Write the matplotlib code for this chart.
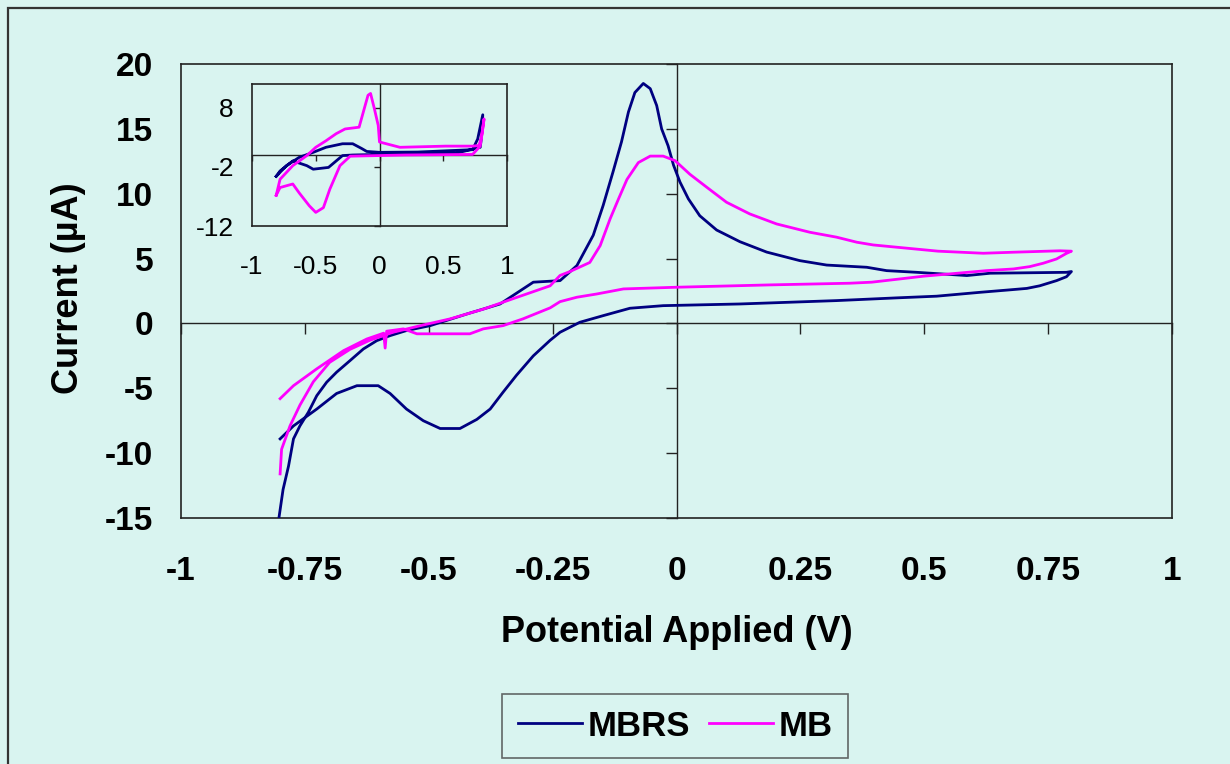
import numpy as np
import matplotlib
matplotlib.use("Agg")
import matplotlib.pyplot as plt
from matplotlib.patches import Rectangle

plt.rcParams["font.family"] = ["Liberation Sans", "DejaVu Sans"]

# main voltammograms (potential in V, current in uA)
mbrs_v = [-0.802, -0.794, -0.783, -0.773, -0.760, -0.743, -0.726, -0.706, -0.686, -0.659,
          -0.632, -0.605, -0.578, -0.545, -0.497, -0.423, -0.356, -0.289, -0.235, -0.201,
          -0.168, -0.148, -0.128, -0.111, -0.097, -0.084, -0.067, -0.053, -0.040, -0.030,
          -0.017, -0.006, 0.007, 0.024, 0.047, 0.081, 0.128, 0.182, 0.249, 0.303,
          0.384, 0.424, 0.485, 0.586, 0.633, 0.787, 0.797,
          0.787, 0.767, 0.733, 0.707, 0.670, 0.613, 0.525, 0.444, 0.323, 0.128,
          -0.027, -0.094, -0.148, -0.195, -0.235, -0.255, -0.289, -0.323, -0.350, -0.376,
          -0.403, -0.437, -0.477, -0.511, -0.545, -0.578, -0.602, -0.645, -0.686, -0.726,
          -0.773, -0.800]
mbrs_i = [-14.9, -12.8, -11.0, -8.9, -7.9, -6.85, -5.57, -4.53, -3.76, -2.87,
          -1.97, -1.33, -0.94, -0.55, -0.17, 0.73, 1.5, 3.18, 3.3, 4.46,
          6.8, 9.1, 11.7, 14.0, 16.3, 17.8, 18.5, 18.1, 16.8, 15.0,
          13.7, 12.2, 10.9, 9.6, 8.3, 7.2, 6.3, 5.5, 4.84, 4.5,
          4.33, 4.07, 3.94, 3.69, 3.87, 3.94, 4.0,
          3.6, 3.3, 2.9, 2.7, 2.58, 2.4, 2.1, 1.97, 1.76, 1.5,
          1.37, 1.17, 0.6, 0.09, -0.68, -1.3, -2.5, -4.0, -5.3, -6.6,
          -7.4, -8.1, -8.1, -7.5, -6.6, -5.4, -4.8, -4.8, -5.4, -6.6,
          -7.9, -8.9]

mb_v = [-0.800, -0.797, -0.780, -0.760, -0.733, -0.700, -0.659, -0.619, -0.572, -0.511,
        -0.457, -0.390, -0.323, -0.255, -0.235, -0.215, -0.175, -0.154, -0.134, -0.117,
        -0.100, -0.077, -0.053, -0.027, -0.003, 0.027, 0.061, 0.101, 0.148, 0.202,
        0.269, 0.323, 0.364, 0.397, 0.465, 0.528, 0.619, 0.680, 0.774, 0.797,
        0.787, 0.767, 0.740, 0.713, 0.680, 0.626, 0.552, 0.498, 0.451, 0.394,
        0.350, 0.188, 0.000, -0.107, -0.161, -0.201, -0.235, -0.255, -0.310, -0.350,
        -0.390, -0.417, -0.477, -0.524, -0.551, -0.585, -0.588, -0.591, -0.625, -0.672,
        -0.726, -0.773, -0.800]
mb_i = [-11.6, -9.7, -7.9, -6.3, -4.5, -3.0, -2.0, -1.3, -0.68, -0.12,
        0.35, 1.1, 2.0, 2.9, 3.7, 4.0, 4.7, 6.0, 8.06, 9.6,
        11.1, 12.4, 12.9, 12.9, 12.55, 11.5, 10.5, 9.34, 8.44, 7.67,
        7.03, 6.65, 6.26, 6.05, 5.8, 5.57, 5.41, 5.49, 5.6, 5.57,
        5.4, 4.97, 4.64, 4.38, 4.2, 4.07, 3.82, 3.64, 3.43, 3.18,
        3.1, 2.97, 2.79, 2.66, 2.27, 2.02, 1.68, 1.2, 0.35, -0.17,
        -0.42, -0.8, -0.8, -0.8, -0.42, -0.6, -1.9, -0.75, -1.2, -2.1,
        -3.5, -4.8, -5.8]

# inset voltammograms
ins_mbrs_v = [-0.81, -0.73, -0.63, -0.52, -0.42, -0.29, -0.21, -0.14, -0.10, 0.00,
              0.30, 0.73, 0.77, 0.81, 0.80, 0.79, 0.60, 0.20, -0.21, -0.29,
              -0.40, -0.52, -0.57, -0.68, -0.78, -0.81]
ins_mbrs_i = [-3.6, -1.8, -0.4, 0.45, 1.3, 1.9, 1.9, 1.1, 0.6, 0.45,
              0.5, 0.9, 2.7, 6.8, 3.0, 1.3, 0.3, 0.2, 0.0, -0.1,
              -2.1, -2.4, -1.8, -1.0, -2.7, -3.6]
ins_mb_v = [-0.81, -0.78, -0.68, -0.57, -0.50, -0.42, -0.34, -0.27, -0.16, -0.12,
            -0.09, -0.07, -0.04, -0.01, 0.00, 0.16, 0.52, 0.73, 0.78, 0.80,
            0.82, 0.81, 0.79, 0.73, 0.20, -0.23, -0.31, -0.39, -0.44, -0.50,
            -0.55, -0.63, -0.68, -0.78, -0.81]
ins_mb_i = [-6.8, -4.1, -1.8, -0.1, 1.3, 2.4, 3.6, 4.4, 4.7, 7.8,
            10.1, 10.4, 7.8, 5.0, 2.2, 1.3, 1.5, 1.5, 1.6, 3.0,
            6.1, 4.5, 1.5, 0.1, 0.0, -0.2, -1.8, -5.8, -8.9, -9.7,
            -8.6, -6.4, -4.9, -5.5, -6.8]

x_ticks = [-1, -0.75, -0.5, -0.25, 0, 0.25, 0.5, 0.75, 1]
x_labels = ["-1", "-0.75", "-0.5", "-0.25", "0", "0.25", "0.5", "0.75", "1"]
y_ticks = [-15, -10, -5, 0, 5, 10, 15, 20]
ins_x_ticks = [-1, -0.5, 0, 0.5, 1]
ins_x_labels = ["-1", "-0.5", "0", "0.5", "1"]
ins_y_ticks = [-12, -2, 8]

BG = "#d9f4f0"
NAVY = "#000080"
MAGENTA = "#ff00ff"
W, H = 1230, 764


def px_rect(x0, y0, x1, y1):
    return [x0 / W, 1 - y1 / H, (x1 - x0) / W, (y1 - y0) / H]


def make_axes(fig, rect, xlim, ylim, xt, xl, yt, fs, weight, xpad, ypad, tlen):
    # frame + tick labels placed at the edges (Excel "low" labels)
    ax = fig.add_axes(rect)
    ax.set_facecolor(BG)
    ax.set_xlim(*xlim)
    ax.set_ylim(*ylim)
    ax.set_xticks(xt)
    ax.set_xticklabels(xl, fontsize=fs, fontweight=weight)
    ax.set_yticks(yt)
    ax.set_yticklabels([str(t) for t in yt], fontsize=fs, fontweight=weight)
    ax.tick_params(axis="x", length=0, pad=xpad)
    ax.tick_params(axis="y", length=0, pad=ypad)
    for s in ax.spines.values():
        s.set_color("#222222")
        s.set_linewidth(1.2)

    # axis lines crossing at zero
    az = fig.add_axes(rect)
    az.patch.set_visible(False)
    az.set_xlim(*xlim)
    az.set_ylim(*ylim)
    az.set_xticks(xt)
    az.set_yticks(yt)
    az.spines["top"].set_visible(False)
    az.spines["right"].set_visible(False)
    az.spines["left"].set_position(("data", 0))
    az.spines["bottom"].set_position(("data", 0))
    for s in ("left", "bottom"):
        az.spines[s].set_color("#222222")
        az.spines[s].set_linewidth(1.0)
        az.spines[s].set_zorder(1)
    az.tick_params(labelleft=False, labelbottom=False, direction="out",
                   length=tlen, width=1.0, color="#222222")
    return ax, az


fig = plt.figure(figsize=(W / 100, H / 100), dpi=100)
fig.patch.set_facecolor(BG)
fig.add_artist(Rectangle((8 / W, -0.1), 1.2, 1.1 - 8 / H, transform=fig.transFigure,
                         fill=False, edgecolor="#333333", linewidth=1.6))

ax, az = make_axes(fig, px_rect(181, 64, 1172, 518), (-1, 1), (-15, 20),
                   x_ticks, x_labels, y_ticks, 24, "bold", 27, 20, 8)
l1, = az.plot(mbrs_v, mbrs_i, color=NAVY, lw=2.0, zorder=3)
l2, = az.plot(mb_v, mb_i, color=MAGENTA, lw=2.0, zorder=3)

fig.text(677 / W, 1 - 632 / H, "Potential Applied (V)", fontsize=26,
         fontweight="bold", ha="center", va="center")
fig.text(68 / W, 1 - 288 / H, "Current (µA)", fontsize=26, fontweight="bold",
         rotation=90, ha="center", va="center")

bx, bz = make_axes(fig, px_rect(252, 84, 507, 226), (-1, 1), (-12, 12),
                   ins_x_ticks, ins_x_labels, ins_y_ticks, 19, "normal", 21, 13, 4)
bz.plot(ins_mbrs_v, ins_mbrs_i, color=NAVY, lw=2.0, zorder=3)
bz.plot(ins_mb_v, ins_mb_i, color=MAGENTA, lw=2.0, zorder=3)

leg = fig.legend([l1, l2], ["MBRS", "MB"], loc="center",
                 bbox_to_anchor=(675 / W, 1 - 726 / H), ncol=2,
                 prop={"size": 25, "weight": "bold"}, frameon=True,
                 fancybox=False, handlelength=1.85, handletextpad=0.15,
                 columnspacing=0.55, borderpad=0.45, borderaxespad=0)
leg.get_frame().set_facecolor(BG)
leg.get_frame().set_edgecolor("#444444")
leg.get_frame().set_linewidth(1.2)

fig.savefig("out.png", dpi=100, facecolor=BG)
